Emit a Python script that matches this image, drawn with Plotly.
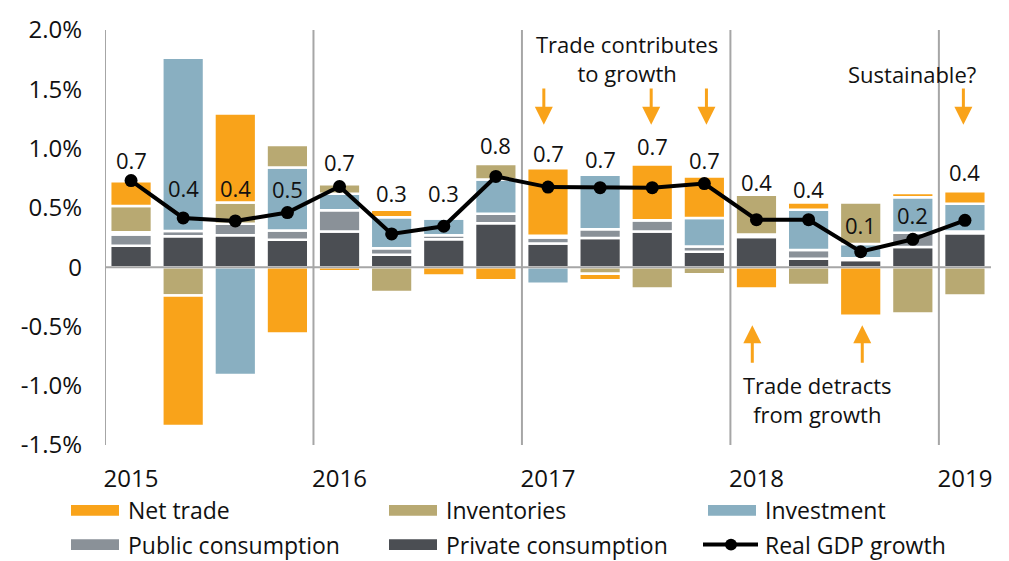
import plotly.graph_objects as go

# ---------------- data ----------------
quarters = ["2015 Q1", "2015 Q2", "2015 Q3", "2015 Q4",
            "2016 Q1", "2016 Q2", "2016 Q3", "2016 Q4",
            "2017 Q1", "2017 Q2", "2017 Q3", "2017 Q4",
            "2018 Q1", "2018 Q2", "2018 Q3", "2018 Q4",
            "2019 Q1"]

private_consumption = [0.18, 0.26, 0.27, 0.23, 0.30, 0.105, 0.235, 0.37, 0.20, 0.245,
                       0.30, 0.13, 0.255, 0.07, 0.06, 0.17, 0.285]
public_consumption = [0.095, 0.045, 0.095, 0.08, 0.18, 0.055, 0.035, 0.08, 0.05, 0.075,
                      0.095, 0.045, 0.02, 0.075, 0.015, 0.12, 0.015]
investment = [0.02, 1.46, -0.91, 0.53, 0.14, 0.26, 0.14, 0.29, -0.14, 0.46,
              0.0, 0.24, 0.0, 0.34, 0.12, 0.30, 0.235]
inventories = [0.22, -0.24, 0.18, 0.19, 0.08, -0.21, 0.0, 0.13, 0.015, -0.055,
               -0.18, -0.06, 0.335, -0.15, 0.35, -0.39, -0.24]
net_trade = [0.21, -1.10, 0.75, -0.56, -0.035, 0.065, -0.07, -0.11, 0.57, -0.055,
             0.47, 0.35, -0.18, 0.06, -0.41, 0.035, 0.105]
gdp_growth = [0.73, 0.415, 0.39, 0.46, 0.68, 0.28, 0.345, 0.765, 0.675, 0.67,
              0.67, 0.705, 0.40, 0.40, 0.13, 0.235, 0.395]

y_tickvals = [-1.5, -1.0, -0.5, 0, 0.5, 1.0, 1.5, 2.0]
y_ticktext = ["-1.5%", "-1.0%", "-0.5%", "0", "0.5%", "1.0%", "1.5%", "2.0%"]

series_names = ["Net trade", "Inventories", "Investment",
                "Public consumption", "Private consumption", "Real GDP growth"]

# ---------------- styles ----------------
C_TRADE = "#F9A31A"
C_INV = "#B8A972"
C_INVEST = "#89AFC1"
C_PUBLIC = "#8A9198"
C_PRIVATE = "#4B4E53"
C_GRID = "#A6A6A6"
FONT = "Open Sans"
TXT = "#111111"

# pixel offsets of the value labels above the GDP markers
label_offsets = [21, 30, 33, 24, 25, 41, 33, 31, 34, 29, 42, 24, 38, 31, 27, 24, 48]

x_idx = list(range(len(quarters)))
years = [q.split()[0] for q in quarters]
n = len(quarters)

fig = go.Figure()

bar_series = [
    (private_consumption, "Private consumption", C_PRIVATE),
    (public_consumption, "Public consumption", C_PUBLIC),
    (investment, "Investment", C_INVEST),
    (inventories, "Inventories", C_INV),
    (net_trade, "Net trade", C_TRADE),
]
for vals, name, col in bar_series:
    fig.add_trace(go.Bar(
        x=x_idx, y=vals, name=name,
        marker=dict(color=col, line=dict(color="white", width=2.5)),
        width=0.8, showlegend=False,
    ))

fig.add_trace(go.Scatter(
    x=x_idx, y=gdp_growth, name="Real GDP growth", mode="lines+markers",
    line=dict(color="black", width=4),
    marker=dict(color="black", size=13),
    showlegend=False,
))

# zero line drawn above the bars' white borders
fig.add_shape(type="line", xref="paper", yref="y", x0=0, x1=1, y0=0, y1=0,
              line=dict(color=C_GRID, width=2), layer="above")

# value labels
for i, v in enumerate(gdp_growth):
    fig.add_annotation(x=x_idx[i], y=v, text=f"{v:.1f}", showarrow=False,
                       yshift=label_offsets[i], yanchor="middle",
                       font=dict(family=FONT, size=22, color=TXT))

# year separators
sep_x = [-0.5] + [i - 0.5 for i in range(1, n) if years[i] != years[i - 1]]
for sx in sep_x:
    top = 2.0 if sx < n - 1 else 1.45
    fig.add_shape(type="line", xref="x", yref="y", x0=sx, x1=sx, y0=-1.5, y1=top,
                  line=dict(color=C_GRID, width=2), layer="below")

# year ticks (first quarter of each year)
year_ticks = [i for i in range(n) if i == 0 or years[i] != years[i - 1]]

# annotations with arrows
ARROW = "#F9A31A"
for xi in [7.92, 9.98, 11.04, 15.97]:
    fig.add_annotation(x=xi, y=1.2, ax=xi, ay=1.52, xref="x", yref="y",
                       axref="x", ayref="y", showarrow=True, arrowhead=2,
                       arrowsize=1.2, arrowwidth=3, arrowcolor=ARROW, text="")
for xi in [11.92, 14.03]:
    fig.add_annotation(x=xi, y=-0.49, ax=xi, ay=-0.82, xref="x", yref="y",
                       axref="x", ayref="y", showarrow=True, arrowhead=2,
                       arrowsize=1.2, arrowwidth=3, arrowcolor=ARROW, text="")

fig.add_annotation(x=9.52, y=1.76, text="Trade contributes<br>to growth", showarrow=False,
                   font=dict(family=FONT, size=22, color=TXT), yanchor="middle")
fig.add_annotation(x=14.99, y=1.632, text="Sustainable?", showarrow=False,
                   font=dict(family=FONT, size=22, color=TXT), yanchor="middle")
fig.add_annotation(x=13.17, y=-1.113, text="Trade detracts<br>from growth", showarrow=False,
                   font=dict(family=FONT, size=22, color=TXT), yanchor="middle")

# ---------------- manual legend ----------------
W, H = 1009, 561
ML, MR, MT, MB = 105, 18, 20, 116
PW, PH = W - ML - MR, H - MT - MB


def px(x):
    return (x - ML) / PW


def py(y):
    return (H - MB - y) / PH


legend_items = [
    ("Net trade", C_TRADE, 71, 512),
    ("Inventories", C_INV, 389, 512),
    ("Investment", C_INVEST, 708, 512),
    ("Public consumption", C_PUBLIC, 71, 547),
    ("Private consumption", C_PRIVATE, 389, 547),
]
for name, col, x0, yc in legend_items:
    fig.add_shape(type="rect", xref="paper", yref="paper",
                  x0=px(x0), x1=px(x0 + 48), y0=py(yc - 5.5), y1=py(yc + 5.5),
                  fillcolor=col, line=dict(width=0))
    fig.add_annotation(xref="paper", yref="paper", x=px(x0 + 55), y=py(yc),
                       text=name, showarrow=False, xanchor="left", yanchor="middle",
                       font=dict(family=FONT, size=23, color=TXT))
# GDP line legend
fig.add_shape(type="line", xref="paper", yref="paper", x0=px(703), x1=px(758),
              y0=py(547), y1=py(547), line=dict(color="black", width=4))
fig.add_shape(type="circle", xref="paper", yref="paper", x0=px(725), x1=px(737),
              y0=py(553), y1=py(541), fillcolor="black", line=dict(width=0))
fig.add_annotation(xref="paper", yref="paper", x=px(763), y=py(547),
                   text=series_names[-1], showarrow=False, xanchor="left", yanchor="middle",
                   font=dict(family=FONT, size=23, color=TXT))

fig.update_layout(
    width=W, height=H,
    margin=dict(l=ML, r=MR, t=MT, b=MB),
    paper_bgcolor="white", plot_bgcolor="white",
    barmode="relative", bargap=0.2,
    showlegend=False,
    font=dict(family=FONT, size=22, color=TXT),
)
fig.update_xaxes(range=[-0.5, n - 0.5], tickvals=year_ticks,
                 ticktext=[years[i] for i in year_ticks], ticks="",
                 showgrid=False, zeroline=False, showline=False,
                 ticklabelstandoff=17, tickfont=dict(family=FONT, size=24, color=TXT))
fig.update_yaxes(range=[-1.5, 2.0], tickvals=y_tickvals, ticktext=y_ticktext, ticks="",
                 showgrid=False, zeroline=False,
                 showline=False, ticklabelstandoff=22,
                 tickfont=dict(family=FONT, size=24, color=TXT))

fig.write_html("out.html")
